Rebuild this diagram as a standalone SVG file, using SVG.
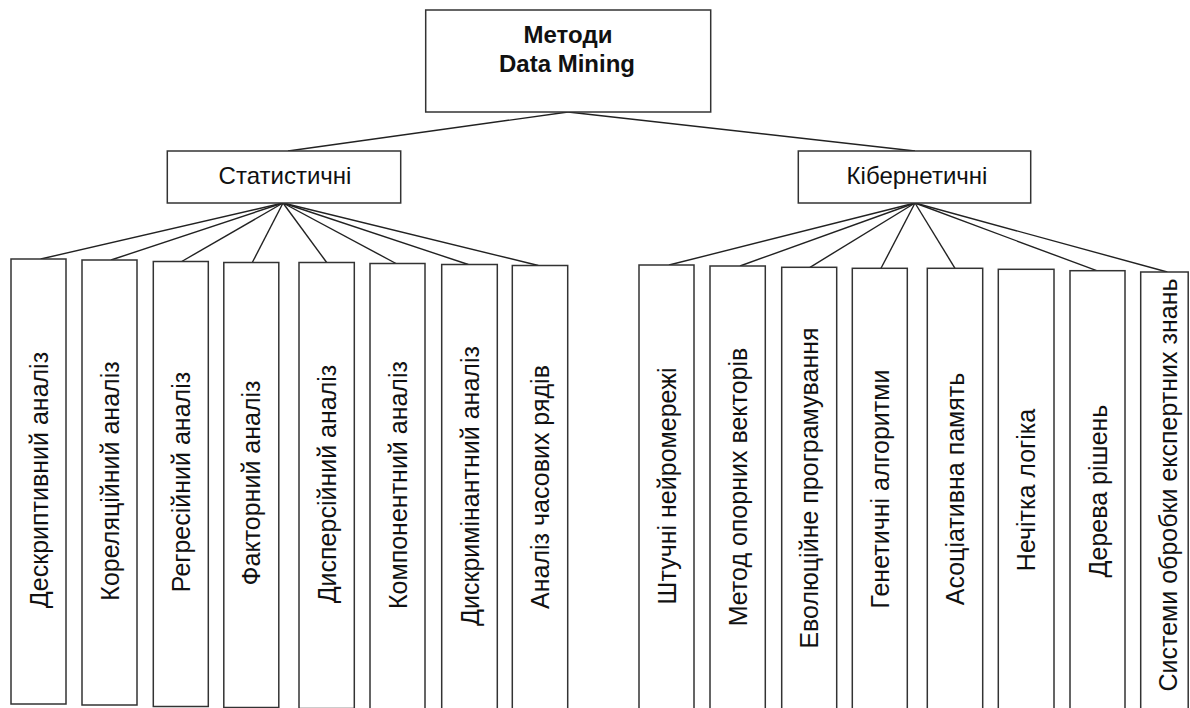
<svg xmlns="http://www.w3.org/2000/svg" width="1190" height="708" viewBox="0 0 1190 708">
<style>
.box{fill:#fff;stroke:#333;stroke-width:1.5}
.ln{stroke:#222;stroke-width:1.4;fill:none}
.t{font-family:"Liberation Sans",Arial,sans-serif;fill:#111}
.h{font-size:24px;text-anchor:middle}
.v{font-size:25px;text-anchor:middle}
.b{font-size:24px;font-weight:bold;text-anchor:middle}
</style>
<rect width="1190" height="708" fill="#fff"/>
<g id="connectors">
<line class="ln" x1="568" y1="112" x2="288" y2="151"/>
<line class="ln" x1="568" y1="112" x2="915" y2="151"/>
<line class="ln" x1="283" y1="203" x2="40.7" y2="259"/>
<line class="ln" x1="283" y1="203" x2="111" y2="260"/>
<line class="ln" x1="283" y1="203" x2="181.7" y2="261.5"/>
<line class="ln" x1="283" y1="203" x2="252.3" y2="262.5"/>
<line class="ln" x1="283" y1="203" x2="326.7" y2="262.5"/>
<line class="ln" x1="283" y1="203" x2="396" y2="263.5"/>
<line class="ln" x1="283" y1="203" x2="468.3" y2="264.5"/>
<line class="ln" x1="283" y1="203" x2="538.3" y2="265.5"/>
<line class="ln" x1="915" y1="203" x2="669" y2="265"/>
<line class="ln" x1="915" y1="203" x2="740" y2="266"/>
<line class="ln" x1="915" y1="203" x2="810" y2="267.3"/>
<line class="ln" x1="915" y1="203" x2="881" y2="268.3"/>
<line class="ln" x1="915" y1="203" x2="955" y2="268.3"/>
<line class="ln" x1="915" y1="203" x2="1096.7" y2="270.7"/>
<line class="ln" x1="915" y1="203" x2="1167.3" y2="272"/>
</g>
<g id="root">
<rect class="box" x="425.7" y="10" width="285" height="102"/>
<text class="t b" x="568" y="43">Методи</text>
<text class="t b" x="567" y="72">Data Mining</text>
</g>
<g id="stat">
<rect class="box" x="167.3" y="151" width="233.4" height="52"/>
<text class="t h" x="285" y="184">Статистичні</text>
</g>
<g id="kib">
<rect class="box" x="798.3" y="151" width="232.4" height="52"/>
<text class="t h" x="917" y="184">Кібернетичні</text>
</g>
<g id="s1"><rect class="box" x="11" y="259" width="55" height="445"/><text class="t v" transform="translate(47.5,480) rotate(-90)">Дескриптивний аналіз</text></g>
<g id="s2"><rect class="box" x="82" y="260" width="55" height="445"/><text class="t v" transform="translate(118.5,481) rotate(-90)">Кореляційний аналіз</text></g>
<g id="s3"><rect class="box" x="153.3" y="261.5" width="55" height="445"/><text class="t v" transform="translate(189.8,482) rotate(-90)">Регресійний аналіз</text></g>
<g id="s4"><rect class="box" x="223.8" y="262.5" width="55" height="445"/><text class="t v" transform="translate(260.3,483) rotate(-90)">Факторний аналіз</text></g>
<g id="s5"><rect class="box" x="299" y="262.5" width="55.3" height="446"/><text class="t v" transform="translate(335.5,484) rotate(-90)">Дисперсійний аналіз</text></g>
<g id="s6"><rect class="box" x="370" y="263.5" width="55" height="446"/><text class="t v" transform="translate(406.5,485) rotate(-90)">Компонентний аналіз</text></g>
<g id="s7"><rect class="box" x="441.7" y="264.5" width="55.6" height="446"/><text class="t v" transform="translate(478.5,486) rotate(-90)">Дискримінантний аналіз</text></g>
<g id="s8"><rect class="box" x="512.3" y="265.5" width="55.4" height="446"/><text class="t v" transform="translate(549,487) rotate(-90)">Аналіз часових рядів</text></g>
<g id="k1"><rect class="box" x="639" y="265" width="55" height="447"/><text class="t v" transform="translate(675.5,486) rotate(-90)">Штучні нейромережі</text></g>
<g id="k2"><rect class="box" x="710" y="266" width="55.3" height="447"/><text class="t v" transform="translate(746.5,487) rotate(-90)">Метод опорних векторів</text></g>
<g id="k3"><rect class="box" x="781.7" y="267.3" width="55" height="447"/><text class="t v" transform="translate(818.2,488) rotate(-90)">Еволюційне програмування</text></g>
<g id="k4"><rect class="box" x="852.3" y="268.3" width="55" height="447"/><text class="t v" transform="translate(888.8,489) rotate(-90)">Генетичні алгоритми</text></g>
<g id="k5"><rect class="box" x="927.3" y="268.3" width="55.4" height="447"/><text class="t v" transform="translate(964,489) rotate(-90)">Асоціативна память</text></g>
<g id="k6"><rect class="box" x="998.3" y="269.3" width="55.7" height="447"/><text class="t v" transform="translate(1035,490) rotate(-90)">Нечітка логіка</text></g>
<g id="k7"><rect class="box" x="1070" y="270.7" width="55" height="447"/><text class="t v" transform="translate(1106.5,491) rotate(-90)">Дерева рішень</text></g>
<g id="k8"><rect class="box" x="1140.7" y="272" width="47.5" height="447"/><text class="t v" transform="translate(1177,485) rotate(-90)">Системи обробки експертних знань</text></g>
</svg>
